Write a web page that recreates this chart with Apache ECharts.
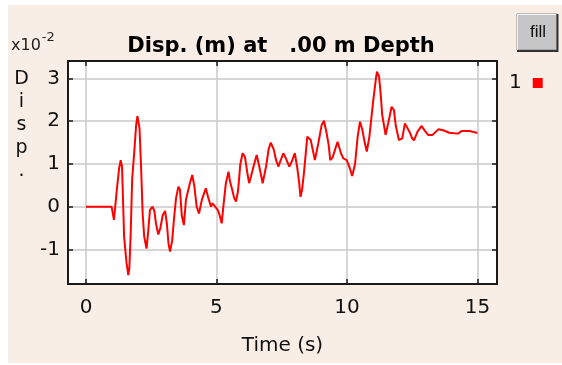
<!DOCTYPE html>
<html><head><meta charset="utf-8">
<script src="https://cdn.jsdelivr.net/npm/echarts@6/dist/echarts.min.js"></script>
<style>html,body{margin:0;padding:0;background:#fff;}#c{width:562px;height:365px;}</style>
</head><body><div id="c"></div>
<script>
const times = [0,0.98,1.07,1.18,1.27,1.33,1.38,1.46,1.55,1.62,1.66,1.71,1.77,1.85,1.92,1.97,2.05,2.11,2.17,2.23,2.32,2.38,2.45,2.55,2.62,2.68,2.77,2.85,2.94,3.03,3.1,3.16,3.22,3.3,3.37,3.45,3.54,3.6,3.67,3.75,3.83,3.98,4.07,4.15,4.24,4.33,4.44,4.59,4.69,4.79,4.85,4.92,5.05,5.12,5.2,5.27,5.36,5.46,5.52,5.6,5.68,5.75,5.83,5.91,6.0,6.09,6.18,6.25,6.32,6.42,6.54,6.64,6.77,6.9,7.0,7.08,7.2,7.28,7.37,7.47,7.56,7.66,7.79,7.88,8.0,8.09,8.17,8.22,8.28,8.35,8.48,8.61,8.7,8.77,8.9,9.03,9.12,9.22,9.3,9.36,9.45,9.54,9.64,9.77,9.86,9.99,10.11,10.2,10.31,10.41,10.5,10.59,10.68,10.76,10.86,10.94,11.01,11.11,11.15,11.23,11.3,11.35,11.42,11.48,11.58,11.71,11.8,11.87,11.99,12.12,12.22,12.29,12.4,12.5,12.57,12.7,12.86,12.98,13.11,13.28,13.5,13.69,13.92,14.26,14.39,14.69,14.97,15.0];
const disp = [0,0,-0.31,0.39,0.9,1.09,0.95,-0.7,-1.3,-1.6,-1.45,-0.68,0.66,1.29,1.9,2.12,1.84,0.94,-0.16,-0.7,-0.98,-0.6,-0.08,0.0,-0.1,-0.39,-0.65,-0.5,-0.2,-0.1,-0.4,-0.86,-1.05,-0.8,-0.3,0.2,0.47,0.4,-0.2,-0.43,0.16,0.55,0.74,0.49,0.0,-0.16,0.16,0.43,0.2,0.0,0.08,0.04,-0.08,-0.2,-0.39,0.04,0.55,0.82,0.59,0.4,0.2,0.12,0.39,0.98,1.25,1.17,0.8,0.55,0.7,0.94,1.21,0.94,0.55,0.94,1.35,1.5,1.33,1.1,0.94,1.1,1.25,1.13,0.94,1.05,1.25,0.94,0.55,0.23,0.4,0.78,1.64,1.56,1.3,1.09,1.48,1.91,2.01,1.72,1.44,1.09,1.15,1.33,1.52,1.25,1.13,1.09,0.9,0.72,1.0,1.64,1.99,1.8,1.5,1.29,1.64,2.1,2.5,3.0,3.16,3.05,2.58,2.15,1.9,1.68,1.95,2.34,2.26,1.9,1.56,1.6,1.95,1.99,1.75,1.6,1.55,1.75,1.89,1.78,1.68,1.68,1.81,1.79,1.73,1.71,1.77,1.77,1.73,1.73];
const xTicks = [0,5,10,15];
const yTicks = [-1,0,1,2,3];
const seriesName = '1';
const titleText = 'Disp. (m) at   .00 m Depth';
const xName = 'Time (s)';
const yName = 'Disp.';

const chart = echarts.init(document.getElementById('c'));
const font = '"DejaVu Sans", sans-serif';
const lfont = '"Liberation Sans", Arial, sans-serif';
const axisCommon = {
  type: 'value',
  axisLine: {show: true, onZero: false, lineStyle: {color: '#1a1a1a', width: 2}},
  axisTick: {show: true, inside: true, length: 5, lineStyle: {color: '#1a1a1a', width: 1.5}},
  splitLine: {show: false}
};
const xMin = -0.69, xMax = 15.75, yMin = -1.81, yMax = 3.41;
chart.setOption({
  animation: false,
  backgroundColor: '#ffffff',
  graphic: [
    {type: 'rect', shape: {x: 8, y: 5, width: 554, height: 358}, style: {fill: '#f9eee5'}, z: -10},
    {type: 'rect', shape: {x: 517, y: 14, width: 40, height: 36}, style: {fill: '#c6c6c6', stroke: '#8a8a8a', lineWidth: 1}},
    {type: 'polyline', shape: {points: [[557.5,14],[557.5,51],[517,51]]}, style: {stroke: '#333', lineWidth: 2, fill: null}},
    {type: 'polyline', shape: {points: [[517.5,50],[517.5,14.5],[556,14.5]]}, style: {stroke: '#f2f2f2', lineWidth: 1, fill: null}},
    {type: 'text', x: 538, y: 32, style: {text: 'fill', font: '17px ' + lfont, fill: '#111', align: 'center', verticalAlign: 'middle'}},
    {type: 'text', x: 11, y: 46, style: {rich: {b: {fontSize: 16, fontFamily: font, fill: '#222'}, s: {fontSize: 13, fontFamily: font, fill: '#222', padding: [0,0,16,1]}}, text: '{b|x10}{s|-2}', verticalAlign: 'middle'}},
    {type: 'text', x: 21.5, y: 125, style: {text: yName.split('').join('\n'), font: '19px ' + font, fill: '#111', align: 'center', verticalAlign: 'middle', lineHeight: 23}}
  ],
  title: {text: titleText, left: 'center', top: 31, textStyle: {fontFamily: font, fontSize: 21, fontWeight: 'bold', color: '#000'}},
  legend: {data: [seriesName], left: 504, top: 68, icon: 'rect', itemWidth: 10, itemHeight: 10, align: 'right', itemGap: 4,
    textStyle: {fontFamily: font, fontSize: 20, color: '#111', padding: [0, 6, 0, 0]}},
  grid: {left: 68, top: 61, right: 65, bottom: 81, show: true, backgroundColor: '#ffffff', borderWidth: 0},
  xAxis: [
    Object.assign({}, axisCommon, {min: xMin, max: xMax, position: 'bottom',
      name: xName, nameLocation: 'middle', nameGap: 52, nameTextStyle: {fontFamily: font, fontSize: 20, color: '#111'},
      axisLabel: {customValues: xTicks, margin: 14, fontFamily: font, fontSize: 20, color: '#111'},
      axisTick: Object.assign({}, axisCommon.axisTick, {customValues: xTicks}),
      splitLine: {show: true, lineStyle: {color: '#c9c9c9', width: 1.5}}}),
    Object.assign({}, axisCommon, {min: xMin, max: xMax, position: 'top',
      axisLabel: {show: false},
      axisTick: Object.assign({}, axisCommon.axisTick, {customValues: xTicks})})
  ],
  yAxis: [
    Object.assign({}, axisCommon, {min: yMin, max: yMax, position: 'left',
      axisLabel: {customValues: yTicks, margin: 8, fontFamily: font, fontSize: 20, color: '#111'},
      axisTick: Object.assign({}, axisCommon.axisTick, {customValues: yTicks}),
      splitLine: {show: true, lineStyle: {color: '#c9c9c9', width: 1.5}}}),
    Object.assign({}, axisCommon, {min: yMin, max: yMax, position: 'right',
      axisLabel: {show: false},
      axisTick: Object.assign({}, axisCommon.axisTick, {customValues: yTicks})})
  ],
  series: [{
    name: seriesName, type: 'line', xAxisIndex: 0, yAxisIndex: 0,
    data: times.map((t, i) => [t, disp[i]]),
    showSymbol: false, symbol: 'none', color: '#ff0000',
    lineStyle: {color: '#ff0000', width: 2}
  }]
});
</script></body></html>
